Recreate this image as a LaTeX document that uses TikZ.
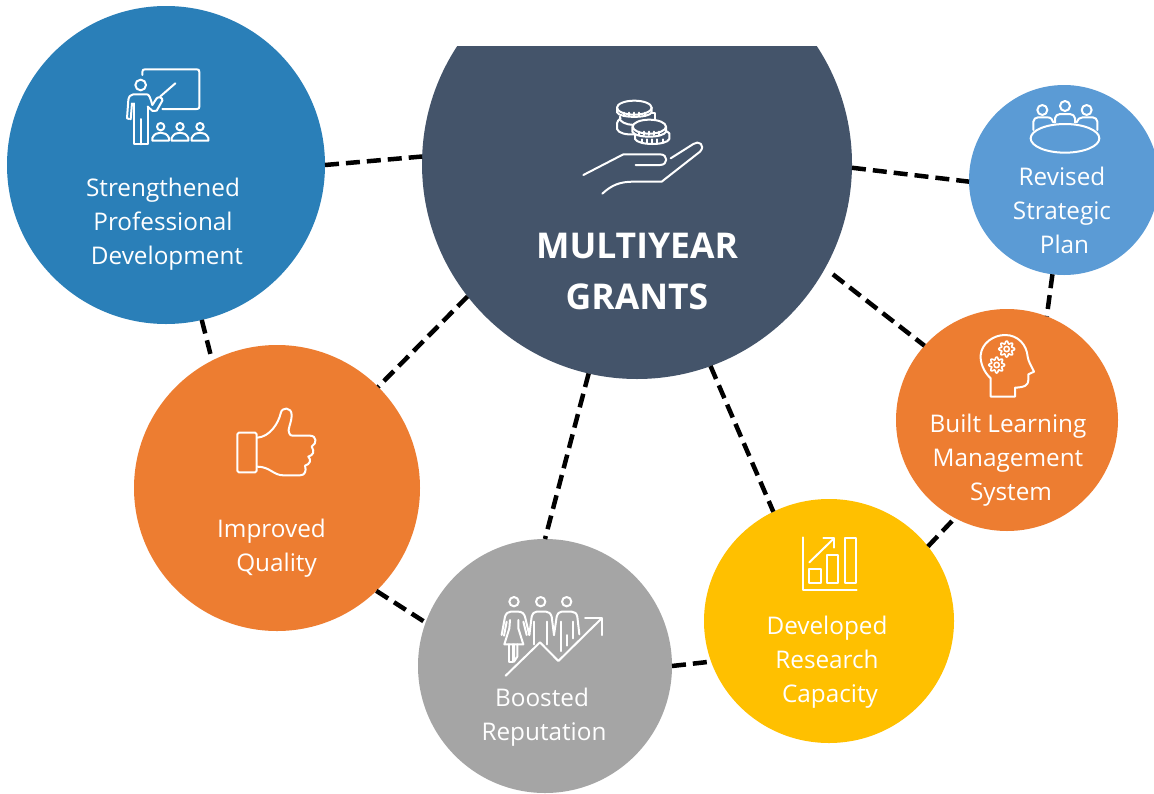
\documentclass[tikz,border=0pt]{standalone}
\usetikzlibrary{shapes.geometric}
\usepackage{fontspec}
\setmainfont{Open Sans}
\definecolor{cblue}{HTML}{2A7FB8}
\definecolor{cnavy}{HTML}{44546A}
\definecolor{clight}{HTML}{5B9BD5}
\definecolor{corange}{HTML}{ED7D31}
\definecolor{cgray}{HTML}{A5A5A5}
\definecolor{cyellow}{HTML}{FFC000}
\tikzset{
  disc/.style={circle,inner sep=0pt,outer sep=0pt,draw=none,fill=#1},
  link/.style={draw=black,line width=4.5pt,dash pattern=on 14pt off 7pt},
  caption/.style={text=white,align=center,font=\fontsize{24.3}{34}\selectfont,inner sep=0pt},
  title/.style={text=white,align=center,font=\fontsize{35.5}{51}\selectfont\bfseries,inner sep=0pt},
  icon/.style={draw=white,line width=2pt,line join=round,line cap=round,x=.33333pt,y=-.33333pt},
}
\begin{document}
\begin{tikzpicture}[x=1pt,y=-1pt]
\useasboundingbox (0,0) rectangle (1154,793);
\fill[white] (0,0) rectangle (1154,793);
% discs
\begin{scope}
\clip (0,46) rectangle (1154,793);
\node[disc=cnavy,minimum size=430pt] (main) at (637,164) {};
\end{scope}
\node[disc=cblue,minimum size=318pt] (dev) at (166,165) {};
\node[disc=clight,minimum size=190pt] (plan) at (1064,180) {};
\node[disc=corange,minimum size=222pt] (lms) at (1007,420) {};
\node[disc=corange,minimum size=286pt] (quality) at (277,488) {};
\node[disc=cgray,minimum size=254pt] (rep) at (545,666) {};
\node[ellipse,inner sep=0pt,outer sep=0pt,fill=cyellow,minimum width=250pt,minimum height=244pt] (research) at (829,621) {};
% connectors
\draw[link] (dev.0.4) -- (main.178.7);
\draw[link] (main.-1.3) -- (plan.-179.4);
\draw[link] (plan.-97.2) -- (lms.69);
\draw[link,shorten <=10pt] (main.-29.8) -- (lms.138.7);
\draw[link] (main.-142) -- (quality.45);
\draw[link] (main.-103.2) -- (rep.90);
\draw[link] (main.-70.4) -- (research.117.8);
\draw[link] (dev.-77.2) -- (quality.117.6);
\draw[link] (quality.-46.7) -- (rep.160);
\draw[link] (rep.-0.9) -- (research.-161.6);
\draw[link] (research.37.1) -- (lms.-118.7);
% captions
\node[title] (t0) at (637,271) {MULTIYEAR\\GRANTS};
\node[caption] (t1) at (163,224) {Strengthened\\Professional\\\hspace*{8pt}Development};
\node[caption] (t2) at (1062,210) {Revised\\Strategic\\\hspace*{5pt}Plan};
\node[caption] (t3) at (1008,460) {Built Learning\\Management\\\hspace*{6pt}System};
\node[caption] (t4) at (274,548) {Improved\hspace*{5pt}\\\hspace*{5pt}Quality};
\node[caption] (t5) at (544,717) {Boosted\hspace*{4pt}\\Reputation};
\node[caption] (t6) at (827,662) {Developed\\Research\\\hspace*{6pt}Capacity};
% teacher icon
\begin{scope}[shift={(100,50)},icon]
\draw (127,75) -- (127,66) .. controls (127,60) and (130,58) .. (135,58) -- (290,58) .. controls (296,58) and (298,60) .. (298,66) -- (298,170) .. controls (298,175) and (296,177) .. (290,177) -- (187,177);
\draw (122,105) circle [radius=16];
\draw (88,207) -- (81,205) -- (85,150) .. controls (86,140) and (92,133) .. (100,133) -- (140,133) .. controls (147,133) and (150,140) .. (157,165);
\draw (92,208) -- (96,160);
\draw (103,160) -- (103,283) -- (143,283) -- (143,170);
\draw (122,207) -- (122,283);
\draw (143,170) -- (158,183) -- (170,182) -- (187,152) .. controls (190,143) and (175,138) .. (170,145) -- (157,165);
\draw (180,140) -- (226,100);
\foreach \px in {182,240,300}{
  \draw (\px,230) circle [radius=11];
  \draw (\px-25,272) -- (\px-25,264) .. controls (\px-20,252) and (\px-10,248) .. (\px,248) .. controls (\px+10,248) and (\px+20,252) .. (\px+25,264) -- (\px+25,272) -- cycle;
}
\end{scope}
% coins and hand icon
\begin{scope}[shift={(570,85)},icon]
\draw (141,115) -- (141,132) .. controls (145,145) and (170,150) .. (195,148);
\draw (141,115) .. controls (142,108) and (146,104) .. (152,100);
\draw (150,95) -- (150,105) .. controls (160,118) and (190,122) .. (195,118);
\draw (245,85) -- (255,85) -- (255,102);
\draw[fill=cnavy] (141,68) -- (141,82) .. controls (148,100) and (238,100) .. (245,82) -- (245,68);
\draw[fill=cnavy] (193,68) ellipse [x radius=52,y radius=21];
\foreach \tx in {162,178,193,208,224} \draw (\tx,83) -- (\tx,93);
\draw[fill=cnavy] (195,145) -- (195,162) .. controls (205,182) and (290,182) .. (298,162) -- (298,145) .. controls (290,130) and (205,130) .. (195,145) -- cycle;
\foreach \tx in {216,232,247,262,278} \draw (\tx,163) -- (\tx,173);
\draw[fill=cnavy] (187,125) -- (187,140) .. controls (195,160) and (280,160) .. (288,140) -- (288,125);
\draw[fill=cnavy] (238,125) ellipse [x radius=50,y radius=21];
\foreach \tx in {208,223,238,253,268} \draw (\tx,140) -- (\tx,150);
\draw (40,270) -- (160,208) -- (270,208) .. controls (295,208) and (295,240) .. (270,240) -- (197,240);
\draw (97,326) .. controls (125,300) and (150,290) .. (190,290) -- (275,290) -- (390,200) .. controls (408,180) and (385,165) .. (370,177) -- (302,220);
\end{scope}
% meeting icon
\begin{scope}[shift={(1010,90)},icon]
\draw (165,145) ellipse [x radius=103,y radius=43];
\draw (97,60) circle [radius=15];
\draw (165,48) circle [radius=15];
\draw (230,60) circle [radius=15];
\draw (135,98) -- (135,85) .. controls (136,78) and (142,72) .. (150,72) -- (180,72) .. controls (188,72) and (194,78) .. (195,85) -- (195,98);
\draw (70,120) -- (70,95) .. controls (71,88) and (76,82) .. (84,82) -- (112,82) .. controls (122,82) and (128,88) .. (130,97);
\draw (200,97) .. controls (203,88) and (208,82) .. (218,82) -- (248,82) .. controls (256,82) and (261,88) .. (262,95) -- (262,120);
\end{scope}
% head icon
\begin{scope}[shift={(960,325)},icon]
\draw (92,215) -- (92,160) .. controls (70,140) and (60,110) .. (62,90) .. controls (65,55) and (100,30) .. (135,30) .. controls (175,30) and (200,60) .. (203,95) .. controls (205,110) and (215,125) .. (222,140) -- (205,148) -- (205,165) .. controls (205,180) and (195,187) .. (165,188) -- (165,215) -- cycle;
\draw[line width=1.6pt,shift={(140,72)}] plot[domain=0:360,samples=97] (\x:{20+4*cos(8*\x)}) -- cycle;
\draw[line width=1.6pt] (140,72) circle [radius=8];
\draw[line width=1.6pt,shift={(110,120)}] plot[domain=0:360,samples=97] (\x:{20+4*cos(8*\x)}) -- cycle;
\draw[line width=1.6pt] (110,120) circle [radius=8];
\end{scope}
% thumb icon
\begin{scope}[shift={(220,395)},icon]
\draw[rounded corners=1.5pt] (52,113) rectangle (110,232);
\draw (112,128) .. controls (150,125) and (175,85) .. (182,55) .. controls (185,35) and (215,35) .. (215,60) .. controls (215,85) and (200,105) .. (208,115) .. controls (210,120) and (212,122) .. (218,122) -- (270,122) .. controls (290,122) and (292,145) .. (275,155) .. controls (285,170) and (280,180) .. (265,185) .. controls (275,195) and (270,208) .. (255,212) .. controls (260,228) and (255,241) .. (240,241) -- (190,241) .. controls (160,241) and (150,215) .. (112,215);
\end{scope}
% people icon
\begin{scope}[shift={(490,585)},icon]
\foreach \hx in {72,152,230} \draw (\hx,50) circle [radius=14];
\draw (35,150) -- (45,95) .. controls (48,85) and (55,80) .. (62,80) -- (85,80) .. controls (95,80) and (102,85) .. (105,95) -- (118,150);
\draw (42,152) -- (50,110) (110,150) -- (100,110);
\draw (60,105) -- (58,130) -- (43,178) -- (100,178) -- (85,130) -- (85,105);
\draw (57,178) -- (57,230) -- (70,230) -- (70,178);
\draw (72,178) -- (72,230) -- (82,215) -- (82,178);
\draw (118,150) -- (125,95) .. controls (128,85) and (133,80) .. (140,80) -- (168,80) .. controls (176,80) and (182,85) .. (185,95) -- (192,150);
\draw (132,110) -- (132,178);
\draw (172,110) -- (172,178);
\draw (192,150) -- (200,95) .. controls (203,85) and (208,80) .. (215,80) -- (245,80) .. controls (254,80) and (260,85) .. (262,95) -- (268,148);
\draw (212,110) -- (212,198);
\draw (250,110) -- (250,160);
\draw (232,150) -- (232,182);
\draw (47,272) -- (150,172) -- (205,228) -- (335,100);
\draw (285,100) -- (335,100) -- (335,150);
\end{scope}
% chart icon
\begin{scope}[shift={(785,525)},icon]
\draw (53,37) -- (53,195) -- (215,195);
\draw (73,133) rectangle (107,175);
\draw (127,90) rectangle (160,175);
\draw (180,38) rectangle (213,175);
\draw (73,112) -- (147,40);
\draw (115,40) -- (147,40) -- (147,68);
\end{scope}
\end{tikzpicture}
\end{document}
